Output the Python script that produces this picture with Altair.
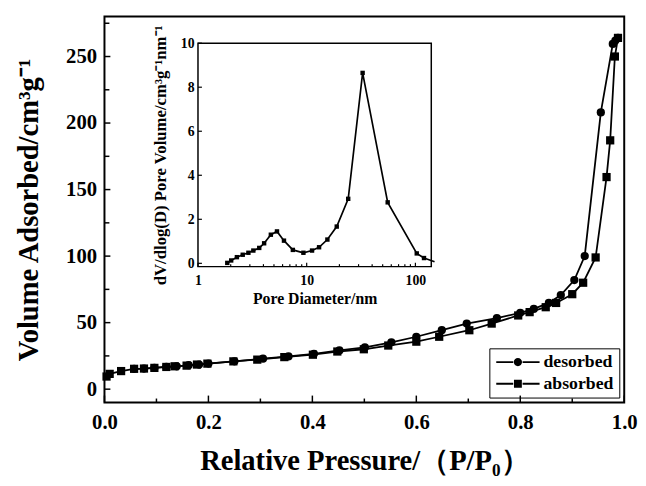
import altair as alt
import pandas as pd

# ---- main isotherm data ----
des_p = [0.057, 0.076, 0.096, 0.119, 0.139, 0.162, 0.182, 0.200, 0.250, 0.305, 0.354,
         0.403, 0.452, 0.501, 0.552, 0.600, 0.649, 0.697, 0.755, 0.800, 0.826, 0.855,
         0.878, 0.904, 0.924, 0.955, 0.978, 0.983, 0.988]
des_v = [15.3, 15.5, 16.0, 16.7, 17.2, 18.0, 18.5, 19.2, 20.9, 22.9, 24.6,
         26.6, 29.1, 31.5, 35.2, 39.4, 44.3, 49.3, 53.4, 57.4, 60.3, 64.8,
         70.7, 82.0, 100.0, 208.0, 259.5, 262.0, 264.0]
abs_p = [0.004, 0.010, 0.032, 0.057, 0.076, 0.096, 0.119, 0.135, 0.158, 0.178, 0.198,
         0.248, 0.294, 0.346, 0.401, 0.448, 0.499, 0.546, 0.600, 0.644, 0.702, 0.745,
         0.796, 0.818, 0.849, 0.869, 0.900, 0.921, 0.945, 0.966, 0.973, 0.982, 0.988]
abs_v = [9.5, 11.5, 13.6, 15.3, 15.5, 16.0, 16.7, 17.2, 17.7, 18.5, 19.2,
         20.9, 22.2, 24.1, 25.9, 28.3, 30.0, 32.8, 35.7, 39.4, 44.3, 49.3,
         55.4, 57.9, 61.6, 64.8, 71.4, 80.0, 99.0, 159.4, 187.0, 250.0, 264.0]
series_names = ["desorbed", "absorbed"]

# ---- inset pore size distribution ----
pore_d = [1.86, 2.02, 2.28, 2.58, 2.91, 3.23, 3.66, 4.06, 4.68, 5.33, 6.18, 7.46,
          9.33, 11.2, 13.0, 15.5, 18.9, 24.1, 32.7, 55.6, 102.9, 120.0]
pore_v = [0.02, 0.13, 0.28, 0.39, 0.48, 0.58, 0.70, 0.91, 1.30, 1.45, 1.03, 0.61,
          0.48, 0.58, 0.73, 1.08, 1.67, 2.93, 8.65, 2.77, 0.45, 0.24]
pore_tail_d = [120.0, 150.0]
pore_tail_v = [0.24, 0.07]

# ---- ticks ----
x_major = [0.0, 0.2, 0.4, 0.6, 0.8, 1.0]
x_minor = [0.1, 0.3, 0.5, 0.7, 0.9]
y_major = [0, 50, 100, 150, 200, 250]
y_minor = [25, 75, 125, 175, 225, 275]
ix_major = [1, 10, 100]
ix_minor = [2, 3, 4, 5, 6, 7, 8, 9, 20, 30, 40, 50, 60, 70, 80, 90]
iy_major = [0, 2, 4, 6, 8, 10]
inset_box = {"D": [1], "D2": [140], "PV": [-0.15], "PV2": [10]}

W, H = 528, 392
FONT = "Liberation Serif"

main_df = pd.DataFrame({
    "P": des_p + abs_p,
    "V": des_v + abs_v,
    "series": [series_names[0]] * len(des_p) + [series_names[1]] * len(abs_p),
})
pore_df = pd.DataFrame({"D": pore_d, "PV": pore_v})
tail_df = pd.DataFrame({"D": pore_tail_d, "PV": pore_tail_v})

xs = alt.Scale(domain=[0, 1], nice=False)
ys = alt.Scale(domain=[-10, 280], nice=False)

x_axis = alt.Axis(values=x_major, format=".1f", title="Relative Pressure/（P/P₀）",
                  titleFontSize=29, labelFontSize=21, labelPadding=9, titlePadding=15,
                  ticks=False, domain=False, grid=False, labelFlush=False, labelOverlap=False)
y_axis = alt.Axis(values=y_major, format="d", title="Volume Adsorbed/cm³g⁻¹",
                  titleFontSize=29, labelFontSize=21, labelPadding=8, titlePadding=21,
                  minExtent=41, maxExtent=41,
                  ticks=False, domain=False, grid=False, labelFlush=False, labelOverlap=False)


def X(field="P"):
    return alt.X(f"{field}:Q", scale=xs, axis=x_axis)


def Y(field="V"):
    return alt.Y(f"{field}:Q", scale=ys, axis=y_axis)


circle_leg = ("M-4.4,-0.2H-0.95V0.2H-4.4Z M0.95,-0.2H4.4V0.2H0.95Z "
              "M-0.84,0A0.84,0.84,0,1,0,0.84,0A0.84,0.84,0,1,0,-0.84,0Z")
square_leg = ("M-4.4,-0.2H-0.95V0.2H-4.4Z M0.95,-0.2H4.4V0.2H0.95Z "
              "M-0.8,-0.8H0.8V0.8H-0.8Z")

legend = alt.Legend(
    title=None, orient="none", legendX=391, legendY=337,
    strokeColor="black", padding=5, symbolSize=100, symbolStrokeWidth=0,
    symbolFillColor="black", symbolOpacity=1,
    symbolOffset=15, labelOffset=17, rowPadding=4,
    labelFont=FONT, labelFontSize=18, labelFontWeight="bold", labelColor="black",
)

base = alt.Chart(main_df)
lines = base.mark_line(color="black", strokeWidth=1.8).encode(
    x=X(), y=Y(), detail="series:N")
points = base.mark_point(filled=True, color="black", size=70, opacity=1).encode(
    x=X(), y=Y(),
    shape=alt.Shape("series:N", scale=alt.Scale(domain=series_names, range=["circle", "square"]),
                    legend=None),
)
legend_layer = base.transform_filter("false").mark_point(
    filled=True, color="black", opacity=1).encode(
    x=X(), y=Y(),
    shape=alt.Shape("series:N", scale=alt.Scale(domain=series_names, range=[circle_leg, square_leg]),
                    legend=legend),
)

xmaj = alt.Chart(pd.DataFrame({"P": x_major})).mark_rule(color="black", strokeWidth=1.5).encode(
    x=X(), y=alt.value(H), y2=alt.value(H - 7))
xmin = alt.Chart(pd.DataFrame({"P": x_minor})).mark_rule(color="black", strokeWidth=1.5).encode(
    x=X(), y=alt.value(H), y2=alt.value(H - 4))
ymaj = alt.Chart(pd.DataFrame({"V": y_major})).mark_rule(color="black", strokeWidth=1.5).encode(
    y=Y(), x=alt.value(0), x2=alt.value(6))
ymin = alt.Chart(pd.DataFrame({"V": y_minor})).mark_rule(color="black", strokeWidth=1.5).encode(
    y=Y(), x=alt.value(0), x2=alt.value(5))

main = alt.layer(lines, xmaj, xmin, ymaj, ymin, points, legend_layer).resolve_scale(
    shape="independent")

# ---- inset ----
IX0, IX1 = 95, 332
IY0, IY1 = 254, 27
ixs = alt.Scale(type="log", domain=[1, 140], range=[IX0, IX1], nice=False)
iys = alt.Scale(domain=[-0.15, 10], range=[IY0, IY1], nice=False)

ix_axis = alt.Axis(orient="bottom", offset=-(H - IY0), values=ix_major, format="~g",
                   title="Pore Diameter/nm", titleFontSize=16, labelFontSize=14,
                   labelPadding=7, titlePadding=3, ticks=False, domain=False, grid=False,
                   labelFlush=False, labelOverlap=False)
iy_axis = alt.Axis(orient="left", offset=-IX0, values=iy_major, format="d",
                   title="dV/dlog(D) Pore Volume/cm³g⁻¹nm⁻¹", titleFontSize=17,
                   labelFontSize=14, labelPadding=4, minExtent=17, maxExtent=17,
                   titlePadding=12, ticks=False, domain=False, grid=False,
                   labelFlush=False, labelOverlap=False)


def IX(field="D"):
    return alt.X(f"{field}:Q", scale=ixs, axis=ix_axis)


def IY(field="PV"):
    return alt.Y(f"{field}:Q", scale=iys, axis=iy_axis)


frame = alt.Chart(pd.DataFrame(inset_box)).mark_rect(
    fill="white", stroke="black", strokeWidth=1.5).encode(
    x=IX(), x2="D2:Q", y=IY(), y2="PV2:Q")
ixmaj = alt.Chart(pd.DataFrame({"D": ix_major})).mark_rule(color="black", strokeWidth=1.2).encode(
    x=IX(), y=alt.value(IY0), y2=alt.value(IY0 - 4))
ixmin = alt.Chart(pd.DataFrame({"D": ix_minor})).mark_rule(color="black", strokeWidth=1.2).encode(
    x=IX(), y=alt.value(IY0), y2=alt.value(IY0 - 2.5))
iymaj = alt.Chart(pd.DataFrame({"PV": iy_major})).mark_rule(color="black", strokeWidth=1.2).encode(
    y=IY(), x=alt.value(IX0), x2=alt.value(IX0 + 4))
pore_line = alt.Chart(pore_df).mark_line(color="black", strokeWidth=1.7).encode(
    x=IX(), y=IY())
tail_line = alt.Chart(tail_df).mark_line(color="black", strokeWidth=1.7, clip=True).encode(
    x=IX(), y=IY())
pore_pts = alt.Chart(pore_df).mark_point(shape="square", filled=True, color="black",
                                         size=20, opacity=1).encode(
    x=IX(), y=IY())

inset = alt.layer(frame, ixmaj, ixmin, iymaj, pore_line, tail_line, pore_pts)

chart = alt.layer(main, inset).resolve_scale(x="independent", y="independent").properties(
    width=W, height=H,
    padding={"left": 7, "top": 5, "right": 0, "bottom": 0},
).configure_axis(
    labelFont=FONT, titleFont=FONT, labelFontWeight="bold", titleFontWeight="bold",
    labelColor="black", titleColor="black",
).configure_view(stroke="black", strokeWidth=2)

chart.save("out.html", embed_options={"renderer": "svg", "actions": False})
